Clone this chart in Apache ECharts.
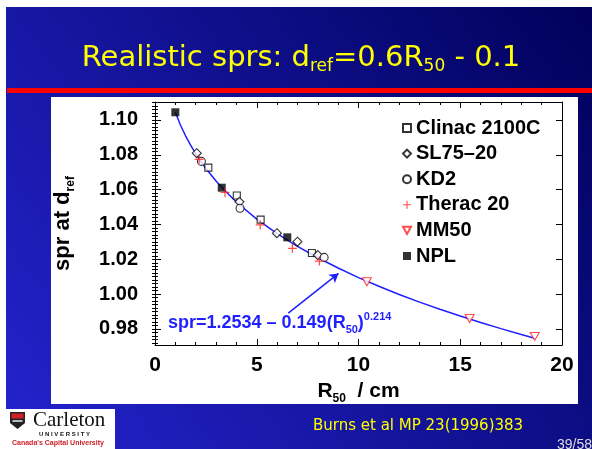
<!DOCTYPE html>
<html>
<head>
<meta charset="utf-8">
<script src="https://cdn.jsdelivr.net/npm/echarts@6/dist/echarts.min.js"></script>
<style>
html,body{margin:0;padding:0;background:#fff;}
#main{width:592px;height:449px;}
</style>
</head>
<body>
<div id="main"></div>
<script>
// measured points: [R50 in cm, spr]
const clinac = [[2.62,1.0726],[4.02,1.0566],[5.19,1.0428],[7.71,1.0236]];
const sl75 = [[2.05,1.0809],[4.15,1.0530],[5.99,1.0350],[7.0,1.0301],[8.0,1.0224]];
const kd2 = [[2.28,1.0762],[4.18,1.0493],[8.31,1.0211]];
const therac = [[2.17,1.0774],[3.44,1.0584],[5.17,1.0397],[6.75,1.0263],[8.08,1.0190]];
const mm50 = [[10.41,1.0071],[15.46,0.9860],[18.66,0.9757]];
const npl = [[1.0,1.1044],[3.28,1.0611],[6.5,1.0326]];

// fitted curve
const fitR = [1,1.25,1.5,1.75,2,2.5,3,3.5,4,5,6,7,8,9,10,11,12,13,14,15,16,17,18,18.7];
const fitSpr = [1.1044,1.0971,1.0909,1.0855,1.0806,1.0721,1.0649,1.0586,1.0529,1.0431,1.0348,1.0274,1.0209,1.0150,1.0095,1.0045,0.9998,0.9954,0.9913,0.9874,0.9837,0.9802,0.9768,0.9745];

// arrow from the formula to the curve
const arrowFrom = [6.55,0.9891];
const arrowTo = [9.02,1.0119];

// axis ticks
const yTicks = [0.98,1.00,1.02,1.04,1.06,1.08,1.10];
const yMin = 0.9708, yMax = 1.1103;
const yMinor = [];
for (let v = 972; v <= 1110; v += 2) yMinor.push(v / 1000);

const FONT = 'Liberation Sans';
const BLUE = '#1f1fff';

const chart = echarts.init(document.getElementById('main'));

const tickStyle = {color:'#000', width:1};
const axisLine = {show:true, onZero:false, lineStyle:{color:'#000', width:1}};

function yAxisFor(pos, major) {
    return {
        type:'value', position:pos, min:yMin, max:yMax, scale:true,
        axisLine: major ? axisLine : {show:false},
        splitLine:{show:false},
        axisTick:{show:true, inside:true, length: major ? 6 : 3, customValues: major ? yTicks : yMinor, lineStyle:tickStyle},
        axisLabel: (major && pos === 'left') ? {
            show:true, customValues:yTicks, formatter: v => v.toFixed(2),
            fontSize:20, fontWeight:'bold', fontFamily:FONT, color:'#000', margin:17
        } : {show:false}
    };
}

function xAxisFor(pos) {
    const a = {
        type:'value', position:pos, min:0, max:20, interval:5,
        axisLine:axisLine, splitLine:{show:false},
        axisTick:{show:true, inside:true, length:6, lineStyle:tickStyle},
        minorTick:{show:true, splitNumber:5, length:3, lineStyle:tickStyle},
        axisLabel:{show:false}
    };
    if (pos === 'bottom') {
        a.axisLabel = {show:true, fontSize:21, fontWeight:'bold', fontFamily:FONT, color:'#000', margin:10};
        a.name = '{b|R}{s|50}{b|  / cm}';
        a.nameLocation = 'middle';
        a.nameGap = 30;
        a.nameTextStyle = {
            rich:{
                b:{fontSize:21, fontWeight:'bold', fontFamily:FONT, color:'#000', lineHeight:26},
                s:{fontSize:12, fontWeight:'bold', fontFamily:FONT, color:'#000', verticalAlign:'bottom', lineHeight:14}
            }
        };
    }
    return a;
}

const yLeft = yAxisFor('left', true);
yLeft.name = '{b|spr at d}{s|ref}';
yLeft.nameLocation = 'middle';
yLeft.nameGap = 78;
yLeft.nameTextStyle = {
    rich:{
        b:{fontSize:22, fontWeight:'bold', fontFamily:FONT, color:'#000', lineHeight:28},
        s:{fontSize:12, fontWeight:'bold', fontFamily:FONT, color:'#000', verticalAlign:'bottom', lineHeight:14}
    }
};

const option = {
    backgroundColor: new echarts.graphic.LinearGradient(1, 0, 0, 1, [
        {offset:0, color:'#00005a'},
        {offset:1, color:'#2424d0'}
    ]),
    animation:false,
    grid:{left:155, right:30, top:102, bottom:104, containLabel:false},
    xAxis:[xAxisFor('bottom'), xAxisFor('top')],
    yAxis:[yLeft, yAxisFor('left', false), yAxisFor('right', true), yAxisFor('right', false)],
    legend:{
        orient:'vertical', left:402, top:118, padding:0,
        itemWidth:8, itemHeight:8, itemGap:5.6, selectedMode:false,
        data:['Clinac 2100C','SL75\u201320','KD2','Therac 20','MM50','NPL'],
        textStyle:{fontSize:20, fontWeight:'bold', fontFamily:FONT, color:'#000', lineHeight:20}
    },
    graphic:[
        // slide margins, red rule, white panel
        {type:'rect', z:-1, shape:{x:0, y:0, width:592, height:7}, style:{fill:'#fff'}},
        {type:'rect', z:-1, shape:{x:0, y:0, width:6, height:449}, style:{fill:'#fff'}},
        {type:'rect', z:-1, shape:{x:7, y:88, width:585, height:5}, style:{fill:'#ff0000'}},
        {type:'rect', z:-1, shape:{x:51, y:97, width:527, height:307}, style:{fill:'#fff'}},
        // title
        {type:'text', z:5, x:301, y:58, style:{
            text:'{m|Realistic sprs: d}{s|ref}{m|=0.6R}{s|50}{m| - 0.1}',
            align:'center', verticalAlign:'middle',
            rich:{
                m:{fontSize:29, fontFamily:'DejaVu Sans', fill:'#ffff00', lineHeight:34},
                s:{fontSize:17, fontFamily:'DejaVu Sans', fill:'#ffff00', verticalAlign:'bottom', lineHeight:19}
            }
        }},
        // fit formula
        {type:'text', z:5, left:168, top:311, style:{
            text:'{m|spr=1.2534 \u2013 0.149(R}{s|50}{m|)}{p|0.214}',
            rich:{
                m:{fontSize:18, fontWeight:'bold', fontFamily:FONT, fill:BLUE, lineHeight:24},
                s:{fontSize:11, fontWeight:'bold', fontFamily:FONT, fill:BLUE, verticalAlign:'bottom', lineHeight:12},
                p:{fontSize:11, fontWeight:'bold', fontFamily:FONT, fill:BLUE, verticalAlign:'top', lineHeight:12}
            }
        }},
        // footer
        {type:'text', z:5, left:313, top:419, style:{text:'Burns et al MP 23(1996)383', fontSize:15, fontFamily:'DejaVu Sans', fill:'#ffff00'}},
        {type:'text', z:5, left:557, top:438, style:{text:'39/58', fontSize:14, fontFamily:FONT, fill:'#dddddd'}},
        // logo
        {type:'rect', z:5, shape:{x:0, y:409, width:115, height:40}, style:{fill:'#fff'}},
        {type:'polygon', z:6, shape:{points:[[10,412],[25,412],[25,423],[17.5,429],[10,423]]}, style:{fill:'#222'}},
        {type:'rect', z:7, shape:{x:11.5, y:413.5, width:12, height:5}, style:{fill:'#d0202a'}},
        {type:'rect', z:7, shape:{x:12.5, y:420, width:10, height:2}, style:{fill:'#bbb'}},
        {type:'text', z:6, left:33, top:410, style:{text:'Carleton', fontSize:21, fontFamily:'Liberation Serif', fill:'#111'}},
        {type:'text', z:6, left:39, top:431, style:{text:'U N I V E R S I T Y', fontSize:6, fontWeight:'bold', fontFamily:FONT, fill:'#111'}},
        {type:'text', z:6, left:12, top:440, style:{text:"Canada's Capital University", fontSize:7, fontWeight:'bold', fontFamily:FONT, fill:'#d0202a'}}
    ],
    series:[
        {
            name:'fit', type:'line', data:fitR.map((r, i) => [r, fitSpr[i]]),
            symbol:'none', smooth:false, silent:true, z:1,
            lineStyle:{color:BLUE, width:1.5},
            markLine:{
                silent:true, symbol:['none','arrow'], symbolSize:[8,9],
                label:{show:false},
                lineStyle:{color:BLUE, width:1.5, type:'solid'},
                data:[[{coord:arrowFrom},{coord:arrowTo}]]
            }
        },
        {name:'Clinac 2100C', type:'scatter', data:clinac, symbol:'rect', symbolSize:7, z:3,
            itemStyle:{color:'#fff', borderColor:'#000', borderWidth:1.1}},
        {name:'SL75\u201320', type:'scatter', data:sl75, symbol:'diamond', symbolSize:9, z:3,
            itemStyle:{color:'#fff', borderColor:'#000', borderWidth:1.1}},
        {name:'KD2', type:'scatter', data:kd2, symbol:'circle', symbolSize:8, z:3,
            itemStyle:{color:'#fff', borderColor:'#000', borderWidth:1.1}},
        {name:'Therac 20', type:'scatter', data:therac, z:4,
            symbol:'path://M4.3,0H5.7V4.3H10V5.7H5.7V10H4.3V5.7H0V4.3H4.3Z', symbolSize:9,
            itemStyle:{color:'#ff2020'}},
        {name:'MM50', type:'scatter', data:mm50, z:3,
            symbol:'path://M0,0L10,0L5,9Z', symbolSize:[9,8],
            itemStyle:{color:'#fff', borderColor:'#ff2020', borderWidth:1.1}},
        {name:'NPL', type:'scatter', data:npl, symbol:'rect', symbolSize:8, z:3,
            itemStyle:{color:'#000'}}
    ]
};

chart.setOption(option);
</script>
</body>
</html>
